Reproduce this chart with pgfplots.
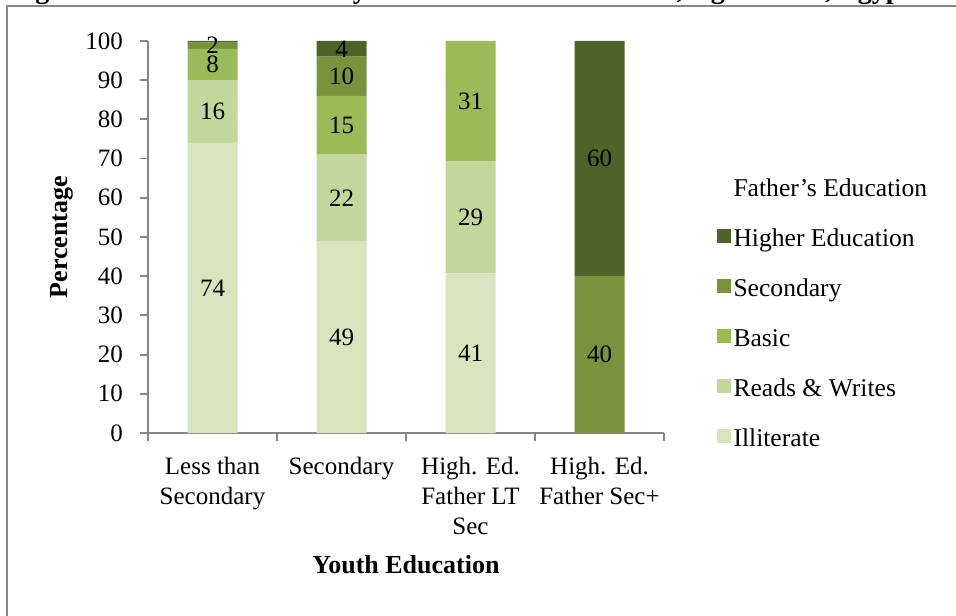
\documentclass[border=0pt]{standalone}
\usepackage{pgfplots}
\usepackage{pgfplotstable}
\pgfplotsset{compat=1.18}
\usepackage{fontspec}
\setmainfont{Liberation Serif}

\definecolor{eduHigher}{HTML}{4F6228}
\definecolor{eduSecondary}{HTML}{77933C}
\definecolor{eduBasic}{HTML}{9BBB59}
\definecolor{eduReads}{HTML}{C3D69B}
\definecolor{eduIlliterate}{HTML}{D7E4BD}
\definecolor{axisGray}{HTML}{868686}

% Share (%) of each youth education group by father's education
\pgfplotstableread{
pos illiterate reads basic secondary higher
0   74.0       16.0  8.0   1.6       0.4
1   49.0       22.0  15.0  10.0      4.0
2   40.7       28.7  30.6  0.0       0.0
3   0.0        0.0   0.0   40.0      60.0
}\fathereducation

\begin{document}
\begin{tikzpicture}
\useasboundingbox (0pt,0pt) rectangle (478pt,307.5pt);
% outer frame
\draw[axisGray, line width=1pt] (3.5pt,-2pt) -- (3.5pt,304.5pt) -- (480pt,304.5pt);
% figure caption, running above the frame
\node[anchor=base west, font=\fontsize{14}{16}\selectfont\bfseries, inner sep=0pt]
  at (5pt,308pt) {Figure 5: Youth Education by Father's Education Level, Aged 15-29, Egypt};

\begin{axis}[
  at={(74pt,91pt)}, anchor=south west,
  scale only axis, width=258pt, height=196pt,
  xmin=-0.5, xmax=3.5, ymin=0, ymax=100,
  ybar stacked, bar width=25pt,
  axis x line*=bottom, axis y line*=left,
  axis line style={axisGray, line width=0.9pt, -},
  tick style={axisGray, line width=0.9pt},
  major tick length=4pt, tick align=outside,
  xtick={-0.5,0.5,1.5,2.5,3.5},
  x tick label as interval,
  xticklabels={{Less than\\Secondary},{Secondary},{High. Ed.\\Father LT\\Sec},{High. Ed.\\Father Sec+}},
  xticklabel style={align=center, font=\fontsize{12.5}{15}\selectfont, yshift=-4.5pt},
  ytick={0,10,...,100},
  yticklabel style={font=\fontsize{12.5}{15}\selectfont, xshift=-5pt},
  /pgf/number format/assume math mode=true,
  xlabel={Youth Education}, ylabel={Percentage},
  xlabel style={font=\fontsize{13}{15}\selectfont\bfseries,
    at={(axis description cs:0.5,0)}, anchor=center, yshift=-66pt},
  ylabel style={font=\fontsize{13}{15}\selectfont\bfseries,
    at={(axis description cs:-0.1667,0.5)}, anchor=center},
  legend style={at={(axis description cs:1.1027,0.656)}, anchor=north west,
    draw=none, fill=none, inner sep=0pt, outer sep=0pt,
    font=\fontsize{12.8}{15}\selectfont, row sep=10.5pt,
    nodes={inner sep=1.25pt, text height=9pt, text depth=3pt}},
  legend cell align=left,
  reverse legend,
  legend image code/.code={\fill[#1] (0pt,-1.5pt) rectangle (7pt,5.5pt);},
  visualization depends on={rawy \as \rawy},
  nodes near coords={\ifdim\rawy pt<1pt\else\pgfmathprintnumber[fixed,precision=0]{\rawy}\fi},
  every node near coord/.append style={anchor=center,
    font=\fontsize{12.5}{15}\selectfont, text=black},
]
\addplot[fill=eduIlliterate, draw=none] table[x=pos, y=illiterate] {\fathereducation};
\addlegendentry{Illiterate}
\addplot[fill=eduReads, draw=none] table[x=pos, y=reads] {\fathereducation};
\addlegendentry{Reads \& Writes}
\addplot[fill=eduBasic, draw=none] table[x=pos, y=basic] {\fathereducation};
\addlegendentry{Basic}
\addplot[fill=eduSecondary, draw=none] table[x=pos, y=secondary] {\fathereducation};
\addlegendentry{Secondary}
\addplot[fill=eduHigher, draw=none] table[x=pos, y=higher] {\fathereducation};
\addlegendentry{Higher Education}
\addlegendimage{empty legend}
\addlegendentry{Father's Education}
\end{axis}
\end{tikzpicture}
\end{document}
